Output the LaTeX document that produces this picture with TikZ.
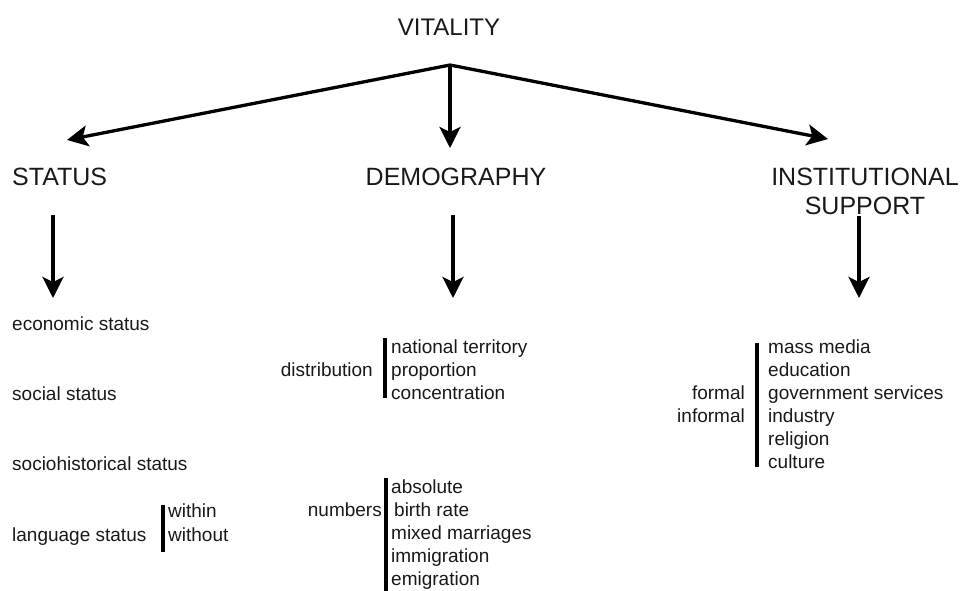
\documentclass[tikz,border=0pt]{standalone}
\usepackage{fontspec}
\setmainfont{Liberation Sans}
\usetikzlibrary{arrows.meta}
\begin{document}
\begin{tikzpicture}[x=1pt,y=-1pt,
  head/.style={font=\fontsize{25}{29}\selectfont, inner sep=0pt, anchor=base, text=black!90},
  item/.style={font=\fontsize{19}{23}\selectfont, inner sep=0pt, anchor=base west, text=black!90},
  itemr/.style={item, anchor=base east},
  arr/.style={line width=3.3pt, -{Stealth[length=21pt,width=21pt,inset=5pt]}},
  bracketbar/.style={line width=3.5pt}]
\useasboundingbox (0,0) rectangle (962,590);

% headings
\node[head, font=\fontsize{24}{29}\selectfont] (vit) at (449,35) {VITALITY};
\node[head, anchor=base west] (stat) at (12,185) {STATUS};
\node[head] (demo) at (456,185) {DEMOGRAPHY};
\node[head] (instA) at (865,185) {INSTITUTIONAL};
\node[head] (instB) at (865,214) {SUPPORT};

% top arrows
\coordinate (apex) at (450,65);
\coordinate (tipS) at (67,140);
\coordinate (tipD) at (450,148);
\coordinate (tipI) at (828,139);
\draw[arr] (apex) -- (tipS);
\draw[arr] (apex) -- (tipD);
\draw[arr] (apex) -- (tipI);

% down arrows
\coordinate (sTop) at (53,215);  \coordinate (sBot) at (53,298);
\coordinate (dTop) at (453,215); \coordinate (dBot) at (453,298);
\coordinate (iTop) at (859,216); \coordinate (iBot) at (859,298);
\draw[arr] (sTop) -- (sBot);
\draw[arr] (dTop) -- (dBot);
\draw[arr] (iTop) -- (iBot);

% status column
\node[item] (econ) at (12,330) {economic status};
\node[item] (soc) at (12,400) {social status};
\node[item] (hist) at (12,470) {sociohistorical status};
\node[item] (lang) at (12,541) {language status};
\node[item] (within) at (168,517) {within};
\node[item] (without) at (168,541) {without};
\coordinate (lbTop) at (163,505); \coordinate (lbBot) at (163,552);
\draw[bracketbar] (lbTop) -- (lbBot);

% demography column
\node[itemr] (dist) at (373,376) {distribution};
\node[item] (nat) at (391,353) {national territory};
\node[item] (prop) at (391,376) {proportion};
\node[item] (conc) at (391,399) {concentration};
\coordinate (dbTop) at (385,338); \coordinate (dbBot) at (385,398);
\draw[bracketbar] (dbTop) -- (dbBot);

\node[itemr] (numb) at (382,516) {numbers};
\node[item] (abs) at (391,493) {absolute};
\node[item] (birth) at (394,516) {birth rate};
\node[item] (mixed) at (391,539) {mixed marriages};
\node[item] (immi) at (391,562) {immigration};
\node[item] (emi) at (391,585) {emigration};
\coordinate (nbTop) at (386,478); \coordinate (nbBot) at (386,595);
\draw[bracketbar] (nbTop) -- (nbBot);

% institutional support column
\node[itemr] (formal) at (745,399) {formal};
\node[itemr] (informal) at (745,422) {informal};
\node[item] (mass) at (768,353) {mass media};
\node[item] (edu) at (768,376) {education};
\node[item] (gov) at (768,399) {government services};
\node[item] (ind) at (768,422) {industry};
\node[item] (rel) at (768,445) {religion};
\node[item] (cul) at (768,468) {culture};
\coordinate (ibTop) at (757,343); \coordinate (ibBot) at (757,467);
\draw[bracketbar] (ibTop) -- (ibBot);
\end{tikzpicture}
\end{document}
